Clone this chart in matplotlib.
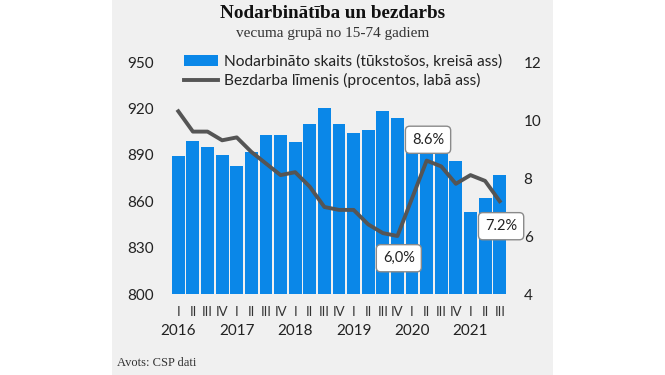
import matplotlib
matplotlib.use("Agg")
import matplotlib.pyplot as plt
from matplotlib.patches import Rectangle
from matplotlib.lines import Line2D
from matplotlib.transforms import blended_transform_factory

# ---- data ----
quarters = ["I", "II", "III", "IV"] * 5 + ["I", "II", "III"]
years = ["2016", "2017", "2018", "2019", "2020", "2021"]
employed = [889, 899, 895, 890, 883, 892, 903, 903, 898, 910, 920, 910,
            904, 906, 918, 914, 908, 896, 894, 886, 853, 862, 877]
unemployment = [10.3, 9.6, 9.6, 9.3, 9.4, 8.9, 8.5, 8.1, 8.2, 7.7, 7.0, 6.9,
                6.9, 6.4, 6.1, 6.0, 7.3, 8.6, 8.4, 7.8, 8.1, 7.9, 7.2]
left_ticks = [800, 830, 860, 890, 920, 950]
right_ticks = [4, 6, 8, 10, 12]
callouts = {17: ("8.6%", 15), 15: ("6,0%", -16), 22: ("7.2%", -18)}

title = "Nodarbinātība un bezdarbs"
subtitle = "vecuma grupā no 15-74 gadiem"
source = "Avots: CSP dati"
bar_label = "Nodarbināto skaits (tūkstošos, kreisā ass)"
line_label = "Bezdarba līmenis (procentos, labā ass)"

W, H = 665, 375
fig = plt.figure(figsize=(W / 100, H / 100), dpi=100, facecolor="white")
fig.patches.append(Rectangle((112 / W, 0), (553 - 112) / W, 1,
                             transform=fig.transFigure, facecolor="#f0f0f0",
                             edgecolor="none", zorder=-10))

sans = ["Lato", "DejaVu Sans"]
serif = ["Liberation Serif", "DejaVu Serif"]

ax = fig.add_axes([171 / W, 1 - 294 / H, (507 - 171) / W, (294 - 62) / H])
ax.set_facecolor("none")
x = list(range(len(employed)))
ax.bar(x, employed, width=0.88, color="#0a87e8", zorder=2)
ax.set_ylim(800, 950)
ax.set_xlim(-0.5, len(employed) - 0.5)
ax.set_yticks(left_ticks)
ax.set_yticklabels([str(t) for t in left_ticks], fontfamily=sans, fontsize=11, color="#222222")
ax.set_xticks(x)
ax.set_xticklabels(quarters, fontfamily=sans, fontsize=9.5, color="#333333")
ax.tick_params(axis="both", length=0)
ax.tick_params(axis="y", pad=12)
ax.tick_params(axis="x", pad=9)
for s in ax.spines.values():
    s.set_visible(False)

trans = blended_transform_factory(ax.transData, fig.transFigure)
for i, yr in enumerate(years):
    ax.text(i * 4, 1 - 331 / H, yr, transform=trans, ha="center", va="center",
            fontfamily=sans, fontsize=11, color="#222222")

ax2 = ax.twinx()
ax2.set_facecolor("none")
ax2.plot(x, unemployment, color="#555555", linewidth=2.8, solid_joinstyle="round",
         zorder=3)
ax2.set_ylim(4, 12)
ax2.set_yticks(right_ticks)
ax2.set_yticklabels([str(t) for t in right_ticks], fontfamily=sans, fontsize=11, color="#222222")
ax2.tick_params(axis="y", length=0, pad=12)
for s in ax2.spines.values():
    s.set_visible(False)

for k, (txt, off) in callouts.items():
    ax2.annotate(txt, (k, unemployment[k]), xytext=(1, off), textcoords="offset points",
                 ha="center", va="center", fontfamily=sans, fontsize=10.5, color="#222222",
                 bbox=dict(boxstyle="round,pad=0.45,rounding_size=0.3", fc="white",
                           ec="#8a8a8a", lw=1.0), zorder=5)

handles = [Rectangle((0, 0), 1, 1, facecolor="#0a87e8"),
           Line2D([0], [0], color="#555555", linewidth=2.8)]
leg = ax2.legend(handles, [bar_label, line_label], loc="upper left",
                 bbox_to_anchor=(0.02, 1.06), frameon=False,
                 prop={"family": sans, "size": 11.2}, handlelength=2.2,
                 handletextpad=0.4, labelspacing=0.3, borderaxespad=0)
for t in leg.get_texts():
    t.set_color("#222222")

fig.text(333 / W, 1 - 14 / H, title, ha="center", va="center",
         fontfamily=serif, fontsize=13.8, fontweight="bold", color="#111111")
fig.text(333 / W, 1 - 33 / H, subtitle, ha="center", va="center",
         fontfamily=serif, fontsize=11, color="#333333")
fig.text(117 / W, 1 - 363 / H, source, ha="left", va="center",
         fontfamily=serif, fontsize=9, color="#333333")

fig.savefig("out.png", dpi=100, facecolor="white")
